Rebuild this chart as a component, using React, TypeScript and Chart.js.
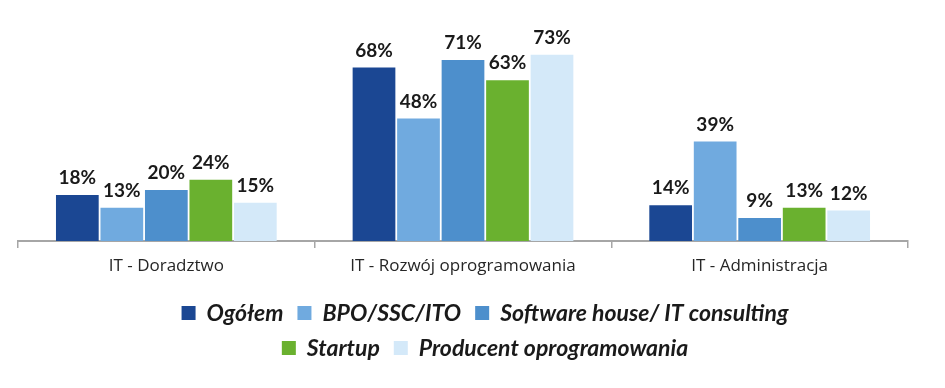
import React, { useEffect, useRef } from "react";
import { Chart, registerables } from "chart.js";

Chart.register(...registerables);

const categories = ["IT - Doradztwo", "IT - Rozwój oprogramowania", "IT - Administracja"];
const seriesNames = ["Ogółem", "BPO/SSC/ITO", "Software house/ IT consulting", "Startup", "Producent oprogramowania"];
const ogolem = [18, 68, 14];
const bpo = [13, 48, 39];
const software = [20, 71, 9];
const startup = [24, 63, 13];
const producent = [15, 73, 12];
const seriesColors = ["#1B4793", "#70AADF", "#4D8FCC", "#6AB12F", "#D4E9F9"];
const legendRows = [[0, 1, 2], [3, 4]];

const labelPlugin = {
  id: "valueLabels",
  afterDatasetsDraw(chart: any) {
    const ctx = chart.ctx;
    ctx.save();
    ctx.font = "bold 19px Lato";
    ctx.fillStyle = "#1a1a1a";
    ctx.textAlign = "center";
    ctx.textBaseline = "middle";
    chart.data.datasets.forEach((ds: any, i: number) => {
      const meta = chart.getDatasetMeta(i);
      meta.data.forEach((bar: any, j: number) => {
        ctx.fillText(ds.data[j] + "%", bar.x, bar.y - 17);
      });
    });
    ctx.restore();
  },
};

const legendPlugin = {
  id: "customLegend",
  afterDraw(chart: any) {
    const ctx = chart.ctx;
    const box = 14;
    const boxGap = 11;
    const itemGap = 14;
    const centerX = 485;
    const rowsY = [chart.chartArea.bottom + 72, chart.chartArea.bottom + 107];
    ctx.save();
    ctx.font = "italic bold 23px Lato";
    ctx.textBaseline = "middle";
    ctx.textAlign = "left";
    legendRows.forEach((row, r) => {
      const widths = row.map((i) => box + boxGap + ctx.measureText(seriesNames[i]).width);
      const total = widths.reduce((a, b) => a + b, 0) + itemGap * (row.length - 1);
      let x = centerX - total / 2;
      const y = rowsY[r];
      row.forEach((i, k) => {
        ctx.fillStyle = seriesColors[i];
        ctx.fillRect(x, y - box / 2, box, box);
        ctx.fillStyle = "#1a1a1a";
        ctx.fillText(seriesNames[i], x + box + boxGap, y + 1);
        x += widths[k] + itemGap;
      });
    });
    ctx.restore();
  },
};

export default function App() {
  const ref = useRef<HTMLCanvasElement>(null);
  useEffect(() => {
    const values = [ogolem, bpo, software, startup, producent];
    const chart = new Chart(ref.current!, {
      type: "bar",
      data: {
        labels: categories,
        datasets: values.map((v, i) => ({
          label: seriesNames[i],
          data: v,
          backgroundColor: seriesColors[i],
          borderWidth: 0,
          barPercentage: 0.96,
          categoryPercentage: 0.75,
        })),
      },
      options: {
        responsive: false,
        animation: false,
        devicePixelRatio: 1,
        layout: { padding: { top: 37, left: 18, right: 37, bottom: 102 } },
        plugins: { legend: { display: false }, tooltip: { enabled: false } },
        scales: {
          y: { display: false, min: 0, max: 80 },
          x: {
            afterFit: (s: any) => {
              s.height = 45;
            },
            grid: {
              offset: true,
              drawOnChartArea: false,
              drawTicks: true,
              tickLength: 7,
              color: "#a6a6a6",
              lineWidth: 1.5,
            },
            border: { display: true, color: "#a6a6a6", width: 2 },
            ticks: {
              padding: 8,
              color: "#262626",
              font: { family: "Open Sans", size: 17 },
            },
          },
        },
      },
      plugins: [labelPlugin, legendPlugin],
    });
    return () => chart.destroy();
  }, []);
  return (
    <div style={{ position: "absolute", left: 0, top: 0, width: 945, height: 388, background: "#fff" }}>
      <canvas ref={ref} width={945} height={388} />
    </div>
  );
}
